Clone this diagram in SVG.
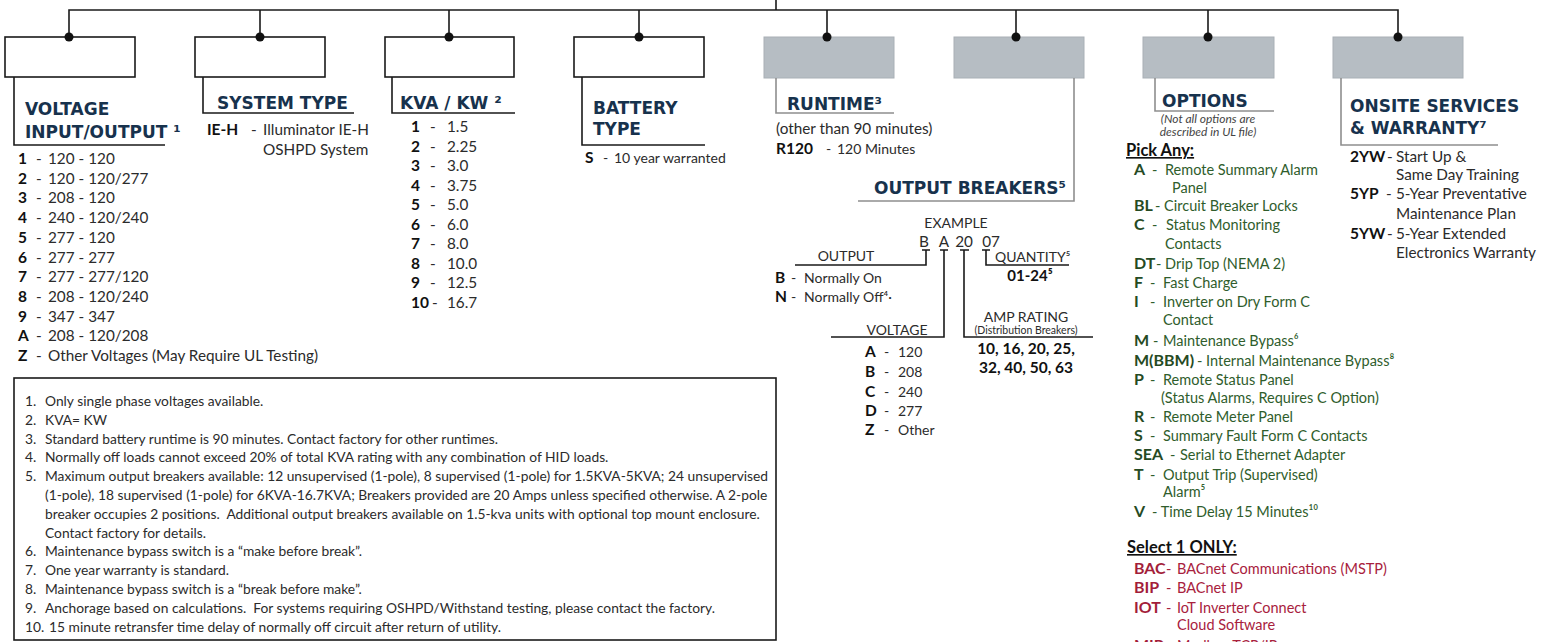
<svg xmlns="http://www.w3.org/2000/svg" width="1550" height="642" viewBox="0 0 1550 642">
<style>
.bg{fill:#ffffff}
.wbox{fill:#ffffff;stroke:#1a1a1a;stroke-width:1.6}
.gbox{fill:#b6bdc3;stroke:#a9b0b6;stroke-width:1}
.line{fill:none;stroke:#1a1a1a;stroke-width:1.6}
.gline{fill:none;stroke:#8e8e8e;stroke-width:1.6}
.dot{fill:#111111}
.h{font-family:"DejaVu Sans",sans-serif;font-weight:bold;font-size:17px;fill:#17324d}
.t{font-family:Lato,"Liberation Sans",sans-serif;font-size:15.3px;fill:#2b2b2b}
.tb{font-family:Lato,"Liberation Sans",sans-serif;font-size:15.5px;font-weight:bold;fill:#111111}
.s{font-family:Lato,"Liberation Sans",sans-serif;font-size:14px;fill:#2b2b2b}
.sb{font-family:Lato,"Liberation Sans",sans-serif;font-size:15px;font-weight:bold;fill:#111111}
.it{font-family:Lato,"Liberation Sans",sans-serif;font-size:12px;font-style:italic;fill:#444444}
.g{font-family:Lato,"Liberation Sans",sans-serif;font-size:14.5px;fill:#2f5d2c}
.gb{font-family:Lato,"Liberation Sans",sans-serif;font-size:16px;font-weight:bold;fill:#254a23}
.r{font-family:Lato,"Liberation Sans",sans-serif;font-size:14.5px;fill:#a8213d}
.rb{font-family:Lato,"Liberation Sans",sans-serif;font-size:16px;font-weight:bold;fill:#a31d3a}
.u{font-family:Lato,"Liberation Sans",sans-serif;font-size:16.5px;font-weight:bold;fill:#111111;text-decoration:underline}
.fn{font-family:Lato,"Liberation Sans",sans-serif;font-size:13.8px;fill:#2b2b2b}
.c{text-anchor:middle}
</style>
<rect class="bg" x="0" y="0" width="1550" height="642"/>

<g id="connectors">
<path class="line" d="M776,0 V10 M69,37 V10 H1398 V37 M260,10 V37 M449,10 V37 M639,10 V37 M827,10 V37 M1016,10 V37 M1208,10 V37"/>
</g>

<g id="node-voltage">
<rect class="wbox" x="5" y="37" width="130" height="40"/>
<circle class="dot" cx="69" cy="37" r="4.5"/>
<path class="line" d="M14,77 V145 H165"/>
<text class="h" x="25" y="115">VOLTAGE</text>
<text class="h" x="25" y="138">INPUT/OUTPUT ¹</text>
<g class="t">
<text x="48" y="164">120 - 120</text>
<text x="48" y="183.7">120 - 120/277</text>
<text x="48" y="203.4">208 - 120</text>
<text x="48" y="223.1">240 - 120/240</text>
<text x="48" y="242.8">277 - 120</text>
<text x="48" y="262.5">277 - 277</text>
<text x="48" y="282.2">277 - 277/120</text>
<text x="48" y="301.9">208 - 120/240</text>
<text x="48" y="321.6">347 - 347</text>
<text x="48" y="341.3">208 - 120/208</text>
<text x="48" y="361">Other Voltages (May Require UL Testing)</text>
</g>
<g class="t">
<text x="36" y="164">-</text><text x="36" y="183.7">-</text><text x="36" y="203.4">-</text><text x="36" y="223.1">-</text><text x="36" y="242.8">-</text><text x="36" y="262.5">-</text><text x="36" y="282.2">-</text><text x="36" y="301.9">-</text><text x="36" y="321.6">-</text><text x="36" y="341.3">-</text><text x="36" y="361">-</text>
</g>
<g class="tb">
<text x="18" y="164">1</text><text x="18" y="183.7">2</text><text x="18" y="203.4">3</text><text x="18" y="223.1">4</text><text x="18" y="242.8">5</text><text x="18" y="262.5">6</text><text x="18" y="282.2">7</text><text x="18" y="301.9">8</text><text x="18" y="321.6">9</text><text x="18" y="341.3">A</text><text x="18" y="361">Z</text>
</g>
</g>

<g id="node-system-type">
<rect class="wbox" x="195" y="37" width="130" height="40"/>
<circle class="dot" cx="260" cy="37" r="4.5"/>
<path class="line" d="M203,77 V113 H354"/>
<text class="h" x="217" y="108.5">SYSTEM TYPE</text>
<text class="tb" x="207" y="135">IE-H</text>
<text class="t" x="251" y="135">-</text>
<text class="t" x="263" y="135">Illuminator IE-H</text>
<text class="t" x="263" y="155">OSHPD System</text>
</g>

<g id="node-kva">
<rect class="wbox" x="385" y="37" width="129" height="40"/>
<circle class="dot" cx="449" cy="37" r="4.5"/>
<path class="line" d="M392,77 V113 H515"/>
<text class="h" x="400" y="108.5">KVA / KW ²</text>
<g class="tb">
<text x="411" y="132">1</text><text x="411" y="151.5">2</text><text x="411" y="171">3</text><text x="411" y="190.5">4</text><text x="411" y="210">5</text><text x="411" y="229.5">6</text><text x="411" y="249">7</text><text x="411" y="268.5">8</text><text x="411" y="288">9</text><text x="411" y="307.5">10</text>
</g>
<g class="t">
<text x="430" y="132">-</text><text x="430" y="151.5">-</text><text x="430" y="171">-</text><text x="430" y="190.5">-</text><text x="430" y="210">-</text><text x="430" y="229.5">-</text><text x="430" y="249">-</text><text x="430" y="268.5">-</text><text x="430" y="288">-</text><text x="432" y="307.5">-</text>
<text x="447" y="132">1.5</text><text x="447" y="151.5">2.25</text><text x="447" y="171">3.0</text><text x="447" y="190.5">3.75</text><text x="447" y="210">5.0</text><text x="447" y="229.5">6.0</text><text x="447" y="249">8.0</text><text x="447" y="268.5">10.0</text><text x="447" y="288">12.5</text><text x="447" y="307.5">16.7</text>
</g>
</g>

<g id="node-battery">
<rect class="wbox" x="574" y="37" width="130" height="40"/>
<circle class="dot" cx="639" cy="37" r="4.5"/>
<path class="line" d="M582,77 V145 H705"/>
<text class="h" x="593" y="113.5">BATTERY</text>
<text class="h" x="593" y="134.5">TYPE</text>
<text class="tb" x="585" y="163">S</text>
<text class="s" x="603" y="163">-</text>
<text class="s" x="614" y="163">10 year warranted</text>
</g>

<g id="node-runtime">
<rect class="gbox" x="764" y="37" width="130" height="41"/>
<circle class="dot" cx="827" cy="37" r="4.5"/>
<path class="gline" d="M776,78 V113 H894"/>
<text class="h" x="787" y="109.5">RUNTIME³</text>
<text class="t" x="776" y="134">(other than 90 minutes)</text>
<text class="tb" x="776" y="154">R120</text>
<text class="s" x="826" y="154">-</text>
<text class="s" x="837" y="154">120 Minutes</text>
</g>

<g id="node-output-breakers">
<rect class="gbox" x="954" y="37" width="130" height="41"/>
<circle class="dot" cx="1016" cy="37" r="4.5"/>
<path class="gline" d="M1074,78 V201 H858"/>
<text class="h" x="874" y="193.5">OUTPUT BREAKERS⁵</text>
<text class="s c" x="956" y="228">EXAMPLE</text>
<g class="t c">
<text x="924" y="247">B</text><text x="944" y="247">A</text><text x="964" y="247">20</text><text x="991" y="247">07</text>
</g>
<path class="line" d="M922,250 H930 M926,250 V265 H795 M940,250 H948 M944,250 V337 H831 M960,250 H969 M964,250 V337 H1093 M982,250 H990 M986,250 V265 H1069"/>
<text class="s c" x="846" y="261">OUTPUT</text>
<text class="s" x="995" y="262">QUANTITY⁵</text>
<text class="sb c" x="1030" y="281">01-24⁵</text>
<text class="tb" x="775" y="283">B</text>
<text class="s" x="791" y="283">-</text>
<text class="s" x="804" y="283">Normally On</text>
<text class="tb" x="775" y="302">N</text>
<text class="s" x="791" y="302">-</text>
<text class="s" x="804" y="302">Normally Off⁴·</text>
<text class="s c" x="897" y="335">VOLTAGE</text>
<text class="s c" x="1026" y="322">AMP RATING</text>
<text class="c" x="1026" y="334" font-family="Lato, 'Liberation Sans', sans-serif" font-size="10.5" fill="#2b2b2b">(Distribution Breakers)</text>
<text class="tb c" x="1026" y="354">10, 16, 20, 25,</text>
<text class="tb c" x="1026" y="373">32, 40, 50, 63</text>
<g class="tb">
<text x="865" y="357">A</text><text x="865" y="377">B</text><text x="865" y="397">C</text><text x="865" y="416">D</text><text x="865" y="435">Z</text>
</g>
<g class="s">
<text x="884" y="357">-</text><text x="884" y="377">-</text><text x="884" y="397">-</text><text x="884" y="416">-</text><text x="884" y="435">-</text>
<text x="898" y="357">120</text><text x="898" y="377">208</text><text x="898" y="397">240</text><text x="898" y="416">277</text><text x="898" y="435">Other</text>
</g>
</g>

<g id="node-options">
<rect class="gbox" x="1143" y="37" width="131" height="41"/>
<circle class="dot" cx="1208" cy="37" r="4.5"/>
<path class="gline" d="M1155,78 V111 H1274"/>
<text class="h" x="1162" y="106.5">OPTIONS</text>
<text class="it c" x="1208" y="123">(Not all options are</text>
<text class="it c" x="1208" y="136">described in UL file)</text>
<text class="u" x="1126" y="156">Pick Any:</text>
<g class="gb">
<text x="1134" y="175">A</text><text x="1134" y="211">BL</text><text x="1134" y="230">C</text><text x="1134" y="269">DT</text><text x="1134" y="288">F</text><text x="1134" y="307">I</text><text x="1134" y="346">M</text><text x="1134" y="366">M(BBM)</text><text x="1134" y="385">P</text><text x="1134" y="422">R</text><text x="1134" y="441">S</text><text x="1134" y="460">SEA</text><text x="1134" y="480">T</text><text x="1134" y="517">V</text>
</g>
<g class="g">
<text x="1152" y="175">-</text><text x="1165" y="175">Remote Summary Alarm</text>
<text x="1172" y="193">Panel</text>
<text x="1155" y="211">- Circuit Breaker Locks</text>
<text x="1152" y="230">-</text><text x="1166" y="230">Status Monitoring</text>
<text x="1165" y="249">Contacts</text>
<text x="1156" y="269">- Drip Top (NEMA 2)</text>
<text x="1150" y="288">-</text><text x="1163" y="288">Fast Charge</text>
<text x="1150" y="307">-</text><text x="1163" y="307">Inverter on Dry Form C</text>
<text x="1163" y="325">Contact</text>
<text x="1153" y="346">-</text><text x="1163" y="346">Maintenance Bypass⁶</text>
<text x="1197" y="366">- Internal Maintenance Bypass⁸</text>
<text x="1150" y="385">-</text><text x="1163" y="385">Remote Status Panel</text>
<text x="1161" y="403">(Status Alarms, Requires C Option)</text>
<text x="1150" y="422">-</text><text x="1163" y="422">Remote Meter Panel</text>
<text x="1150" y="441">-</text><text x="1163" y="441">Summary Fault Form C Contacts</text>
<text x="1170" y="460">-</text><text x="1180" y="460">Serial to Ethernet Adapter</text>
<text x="1150" y="480">-</text><text x="1163" y="480">Output Trip (Supervised)</text>
<text x="1163" y="497">Alarm⁵</text>
<text x="1152" y="517">- Time Delay 15 Minutes¹⁰</text>
</g>
<text class="u" x="1127" y="553">Select 1 ONLY:</text>
<g class="rb">
<text x="1134" y="574">BAC</text><text x="1134" y="593">BIP</text><text x="1134" y="613">IOT</text><text x="1134" y="651">MIP</text>
</g>
<g class="r">
<text x="1166" y="574">-</text><text x="1177" y="574">BACnet Communications (MSTP)</text>
<text x="1166" y="593">-</text><text x="1177" y="593">BACnet IP</text>
<text x="1166" y="613">-</text><text x="1177" y="613">IoT Inverter Connect</text>
<text x="1177" y="630">Cloud Software</text>
<text x="1166" y="651">-</text><text x="1177" y="651">Modbus TCP/IP</text>
</g>
</g>

<g id="node-onsite">
<rect class="gbox" x="1333" y="37" width="130" height="41"/>
<circle class="dot" cx="1398" cy="37" r="4.5"/>
<path class="gline" d="M1341,78 V145 H1498"/>
<text class="h" x="1350" y="111.5">ONSITE SERVICES</text>
<text class="h" x="1350" y="133.5">&amp; WARRANTY⁷</text>
<g class="tb">
<text x="1350" y="162">2YW</text><text x="1350" y="199">5YP</text><text x="1350" y="239">5YW</text>
</g>
<g class="t">
<text x="1387" y="162">-</text><text x="1396" y="162">Start Up &amp;</text>
<text x="1396" y="180">Same Day Training</text>
<text x="1386" y="199">-</text><text x="1396" y="199">5-Year Preventative</text>
<text x="1396" y="219">Maintenance Plan</text>
<text x="1387" y="239">-</text><text x="1396" y="239">5-Year Extended</text>
<text x="1396" y="258">Electronics Warranty</text>
</g>
</g>

<g id="node-footnotes">
<rect x="14" y="378" width="762" height="262" fill="#ffffff" stroke="#1a1a1a" stroke-width="1.6"/>
<g class="fn">
<text x="25" y="406">1.</text><text x="45" y="406">Only single phase voltages available.</text>
<text x="25" y="424.8">2.</text><text x="45" y="424.8">KVA= KW</text>
<text x="25" y="443.6">3.</text><text x="45" y="443.6">Standard battery runtime is 90 minutes. Contact factory for other runtimes.</text>
<text x="25" y="462.4">4.</text><text x="45" y="462.4">Normally off loads cannot exceed 20% of total KVA rating with any combination of HID loads.</text>
<text x="25" y="481.2">5.</text><text x="45" y="481.2">Maximum output breakers available: 12 unsupervised (1-pole), 8 supervised (1-pole) for 1.5KVA-5KVA; 24 unsupervised</text>
<text x="45" y="500">(1-pole), 18 supervised (1-pole) for 6KVA-16.7KVA; Breakers provided are 20 Amps unless specified otherwise. A 2-pole</text>
<text x="45" y="518.8" xml:space="preserve">breaker occupies 2 positions.  Additional output breakers available on 1.5-kva units with optional top mount enclosure.</text>
<text x="45" y="537.6">Contact factory for details.</text>
<text x="25" y="556.4">6.</text><text x="45" y="556.4">Maintenance bypass switch is a “make before break”.</text>
<text x="25" y="575.2">7.</text><text x="45" y="575.2">One year warranty is standard.</text>
<text x="25" y="594">8.</text><text x="45" y="594">Maintenance bypass switch is a “break before make”.</text>
<text x="25" y="612.8">9.</text><text x="45" y="612.8" xml:space="preserve">Anchorage based on calculations.  For systems requiring OSHPD/Withstand testing, please contact the factory.</text>
<text x="25" y="631.6">10.</text><text x="49" y="631.6">15 minute retransfer time delay of normally off circuit after return of utility.</text>
</g>
</g>
</svg>
